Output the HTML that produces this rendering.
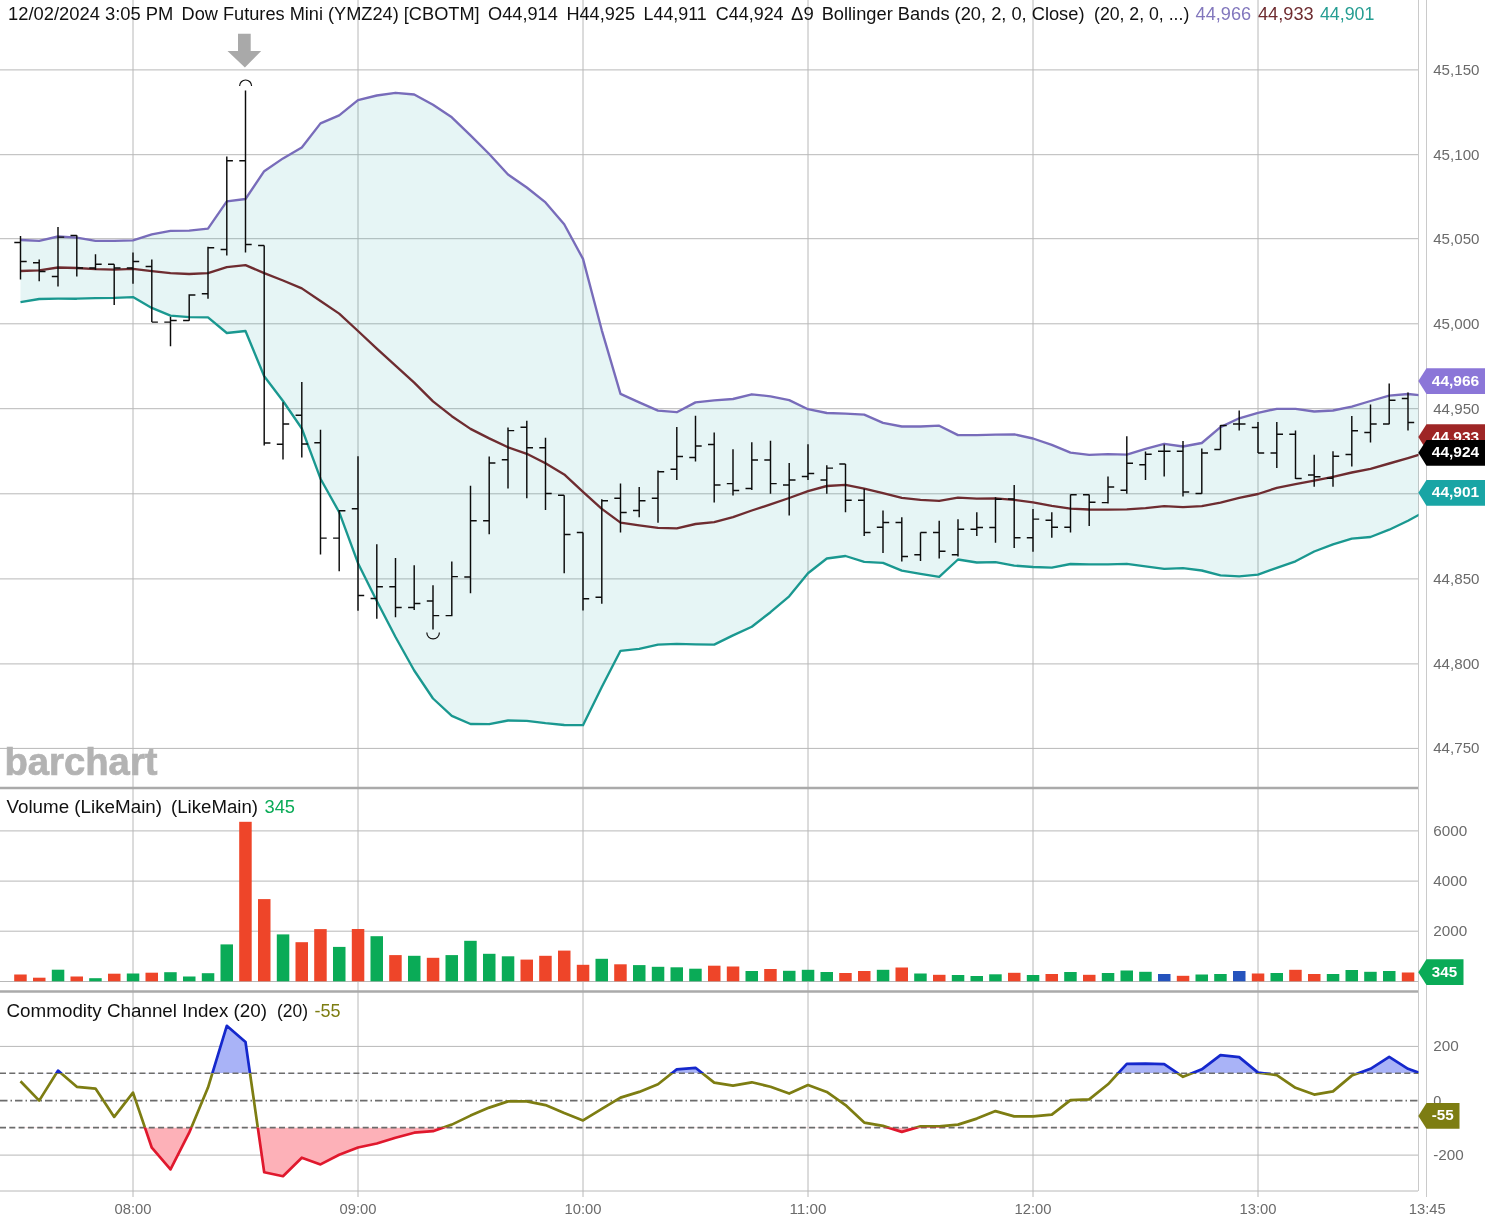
<!DOCTYPE html>
<html lang="en"><head><meta charset="utf-8"><title>Dow Futures Mini (YMZ24) chart</title>
<style>html,body{margin:0;padding:0;background:#fff}body{width:1486px;height:1226px;overflow:hidden}svg{display:block}</style></head>
<body>
<svg width="1486" height="1226" viewBox="0 0 1486 1226" font-family='"Liberation Sans", "DejaVu Sans", sans-serif'>
<defs><clipPath id="cm"><rect x="0" y="0" width="1418.5" height="788"/></clipPath><clipPath id="cc"><rect x="0" y="992" width="1418.5" height="199"/></clipPath><clipPath id="cup"><rect x="0" y="992" width="1418.5" height="81.3"/></clipPath><clipPath id="cmid"><rect x="0" y="1073.3" width="1418.5" height="54.3"/></clipPath><clipPath id="cdn"><rect x="0" y="1127.6" width="1418.5" height="64"/></clipPath></defs>
<rect width="1486" height="1226" fill="#fff"/>
<g shape-rendering="auto">
<line x1="0" y1="69.9" x2="1418" y2="69.9" stroke="#b8b8b8" stroke-width="1" />
<line x1="0" y1="154.7" x2="1418" y2="154.7" stroke="#b8b8b8" stroke-width="1" />
<line x1="0" y1="238.7" x2="1418" y2="238.7" stroke="#b8b8b8" stroke-width="1" />
<line x1="0" y1="323.8" x2="1418" y2="323.8" stroke="#b8b8b8" stroke-width="1" />
<line x1="0" y1="408.7" x2="1418" y2="408.7" stroke="#b8b8b8" stroke-width="1" />
<line x1="0" y1="493.8" x2="1418" y2="493.8" stroke="#b8b8b8" stroke-width="1" />
<line x1="0" y1="578.9" x2="1418" y2="578.9" stroke="#b8b8b8" stroke-width="1" />
<line x1="0" y1="663.9" x2="1418" y2="663.9" stroke="#b8b8b8" stroke-width="1" />
<line x1="0" y1="748.4" x2="1418" y2="748.4" stroke="#b8b8b8" stroke-width="1" />
<line x1="0" y1="830.9" x2="1418" y2="830.9" stroke="#b8b8b8" stroke-width="1" />
<line x1="0" y1="881.1" x2="1418" y2="881.1" stroke="#b8b8b8" stroke-width="1" />
<line x1="0" y1="931.2" x2="1418" y2="931.2" stroke="#b8b8b8" stroke-width="1" />
<line x1="0" y1="981.5" x2="1418" y2="981.5" stroke="#b8b8b8" stroke-width="1" />
<line x1="0" y1="1046.4" x2="1418" y2="1046.4" stroke="#b8b8b8" stroke-width="1" />
<line x1="0" y1="1155.1" x2="1418" y2="1155.1" stroke="#b8b8b8" stroke-width="1" />
<line x1="0" y1="1191" x2="1418" y2="1191" stroke="#b8b8b8" stroke-width="1" />
<line x1="133" y1="0" x2="133" y2="1197" stroke="#b8b8b8" stroke-width="1"/>
<line x1="358" y1="0" x2="358" y2="1197" stroke="#b8b8b8" stroke-width="1"/>
<line x1="583" y1="0" x2="583" y2="1197" stroke="#b8b8b8" stroke-width="1"/>
<line x1="808" y1="0" x2="808" y2="1197" stroke="#b8b8b8" stroke-width="1"/>
<line x1="1033" y1="0" x2="1033" y2="1197" stroke="#b8b8b8" stroke-width="1"/>
<line x1="1258" y1="0" x2="1258" y2="1197" stroke="#b8b8b8" stroke-width="1"/>
<line x1="1418.5" y1="0" x2="1418.5" y2="1191" stroke="#cacaca" stroke-width="1"/>
<line x1="1426.5" y1="0" x2="1426.5" y2="1197" stroke="#cacaca" stroke-width="1"/>
</g>
<g clip-path="url(#cm)">
<polygon points="20.5,240 39.2,240.8 58,236.5 76.8,237.6 95.5,240.8 114.2,240.8 133,240.4 151.8,234.4 170.5,230.8 189.2,230.7 208,228.7 226.8,201.4 245.5,199 264.2,171.2 283,158.4 301.8,147.5 320.5,123.4 339.2,115.3 358,100.2 376.8,95.5 395.5,92.8 414.2,94.5 433,104.7 451.8,117.3 470.5,135.3 489.2,154 508,174.5 526.8,187.5 545.5,202.4 564.2,224.2 583,258.9 601.8,330.3 620.5,393.9 639.2,402.4 658,410.6 676.8,412.2 695.5,402.4 714.2,400.4 733,399 751.8,394.3 770.5,396.3 789.2,400.1 808,409.2 826.8,413 845.5,413.7 864.2,414.7 883,422.8 901.8,426.5 920.5,426.5 939.2,425.7 958,435.1 976.8,435.1 995.5,434.7 1014.2,434.3 1033,438.5 1051.8,444.9 1070.5,452.7 1089.2,454.8 1108,454.2 1126.8,454.6 1145.5,448.9 1164.2,443.8 1183,446.5 1201.8,443 1220.5,427.1 1239.2,418.3 1258,412.8 1276.8,408.8 1295.5,408.8 1314.2,411.5 1333,410.5 1351.8,406.7 1370.5,401 1389.2,395.6 1408,394 1426.8,396 1426.8,510.5 1408,520.7 1389.2,529.7 1370.5,537 1351.8,538.6 1333,544.4 1314.2,551.5 1295.5,561.3 1276.8,567.8 1258,574.6 1239.2,576.4 1220.5,575.4 1201.8,570.5 1183,568.2 1164.2,568.9 1145.5,566.4 1126.8,563.8 1108,564.4 1089.2,564.3 1070.5,564 1051.8,567.6 1033,567 1014.2,565.6 995.5,562.1 976.8,562.5 958,559.5 939.2,576.8 920.5,573.8 901.8,570.7 883,562.9 864.2,561.8 845.5,556 826.8,558.5 808,573.2 789.2,596.3 770.5,612.2 751.8,626.8 733,635.4 714.2,644.6 695.5,644.4 676.8,643.8 658,644.7 639.2,648.8 620.5,650.8 601.8,687 583,725.2 564.2,725 545.5,723.2 526.8,720.9 508,720.5 489.2,724.2 470.5,724 451.8,715.8 433,698.5 414.2,670.5 395.5,637 376.8,601 358,563.2 339.2,512.2 320.5,478.7 301.8,428.5 283,401 264.2,376.3 245.5,331 226.8,333 208,317.4 189.2,317.1 170.5,315.6 151.8,307.9 133,297.1 114.2,297.9 95.5,298.2 76.8,298.7 58,298.7 39.2,299 20.5,302.2" fill="#1aa3a3" fill-opacity="0.11"/>
<polyline points="20.5,240 39.2,240.8 58,236.5 76.8,237.6 95.5,240.8 114.2,240.8 133,240.4 151.8,234.4 170.5,230.8 189.2,230.7 208,228.7 226.8,201.4 245.5,199 264.2,171.2 283,158.4 301.8,147.5 320.5,123.4 339.2,115.3 358,100.2 376.8,95.5 395.5,92.8 414.2,94.5 433,104.7 451.8,117.3 470.5,135.3 489.2,154 508,174.5 526.8,187.5 545.5,202.4 564.2,224.2 583,258.9 601.8,330.3 620.5,393.9 639.2,402.4 658,410.6 676.8,412.2 695.5,402.4 714.2,400.4 733,399 751.8,394.3 770.5,396.3 789.2,400.1 808,409.2 826.8,413 845.5,413.7 864.2,414.7 883,422.8 901.8,426.5 920.5,426.5 939.2,425.7 958,435.1 976.8,435.1 995.5,434.7 1014.2,434.3 1033,438.5 1051.8,444.9 1070.5,452.7 1089.2,454.8 1108,454.2 1126.8,454.6 1145.5,448.9 1164.2,443.8 1183,446.5 1201.8,443 1220.5,427.1 1239.2,418.3 1258,412.8 1276.8,408.8 1295.5,408.8 1314.2,411.5 1333,410.5 1351.8,406.7 1370.5,401 1389.2,395.6 1408,394 1426.8,396" fill="none" stroke="#786cba" stroke-width="2.35" stroke-linejoin="round"/>
<polyline points="20.5,302.2 39.2,299 58,298.7 76.8,298.7 95.5,298.2 114.2,297.9 133,297.1 151.8,307.9 170.5,315.6 189.2,317.1 208,317.4 226.8,333 245.5,331 264.2,376.3 283,401 301.8,428.5 320.5,478.7 339.2,512.2 358,563.2 376.8,601 395.5,637 414.2,670.5 433,698.5 451.8,715.8 470.5,724 489.2,724.2 508,720.5 526.8,720.9 545.5,723.2 564.2,725 583,725.2 601.8,687 620.5,650.8 639.2,648.8 658,644.7 676.8,643.8 695.5,644.4 714.2,644.6 733,635.4 751.8,626.8 770.5,612.2 789.2,596.3 808,573.2 826.8,558.5 845.5,556 864.2,561.8 883,562.9 901.8,570.7 920.5,573.8 939.2,576.8 958,559.5 976.8,562.5 995.5,562.1 1014.2,565.6 1033,567 1051.8,567.6 1070.5,564 1089.2,564.3 1108,564.4 1126.8,563.8 1145.5,566.4 1164.2,568.9 1183,568.2 1201.8,570.5 1220.5,575.4 1239.2,576.4 1258,574.6 1276.8,567.8 1295.5,561.3 1314.2,551.5 1333,544.4 1351.8,538.6 1370.5,537 1389.2,529.7 1408,520.7 1426.8,510.5" fill="none" stroke="#1a9890" stroke-width="2.35" stroke-linejoin="round"/>
<polyline points="20.5,271 39.2,270.4 58,267.5 76.8,268 95.5,269.1 114.2,269.6 133,268.8 151.8,271.2 170.5,273.2 189.2,274 208,273.2 226.8,267.2 245.5,265.2 264.2,273.1 283,280.5 301.8,288.4 320.5,301 339.2,313.6 358,331 376.8,348.7 395.5,365.6 414.2,382.6 433,401.3 451.8,416.2 470.5,428.9 489.2,438.4 508,447.3 526.8,453.8 545.5,463.2 564.2,474.4 583,491.8 601.8,508.9 620.5,522.6 639.2,525.4 658,527.9 676.8,528.3 695.5,524 714.2,522.2 733,517.2 751.8,510.5 770.5,504.4 789.2,498 808,491.2 826.8,486 845.5,484.8 864.2,488.6 883,493.2 901.8,497.9 920.5,499.9 939.2,500.9 958,497.7 976.8,498.7 995.5,498.3 1014.2,499.9 1033,502.4 1051.8,505.8 1070.5,508.6 1089.2,509.5 1108,509.7 1126.8,509.3 1145.5,508.1 1164.2,506.2 1183,507.1 1201.8,506.2 1220.5,502.6 1239.2,497.9 1258,494 1276.8,487.9 1295.5,484.2 1314.2,480.7 1333,476.8 1351.8,472.5 1370.5,468.8 1389.2,463.5 1408,458.1 1426.8,452.5" fill="none" stroke="#6e2c30" stroke-width="2.35" stroke-linejoin="round"/>
<path d="M20.5 236V279.6M14.3 242.5H20.5M20.5 261.5H26.7M39.2 259.4V281.2M33 262.8H39.2M39.2 271.4H45.5M58 227.1V286.6M51.8 276.4H58M58 237.1H64.2M76.8 235.2V276.4M70.5 235.5H76.8M76.8 268H83M95.5 254.3V269.9M89.3 268H95.5M95.5 264.3H101.7M114.2 264.3V305.1M108 264.3H114.2M114.2 268H120.5M133 252.6V283.7M126.8 268H133M133 261.5H139.2M151.8 259.4V322.1M145.6 266.4H151.8M151.8 322.1H157.9M170.5 316.8V346.2M164.3 322.1H170.5M170.5 320.5H176.7M189.2 294.2V320.8M183.1 320.5H189.2M189.2 295H195.4M208 246.8V298.7M201.8 293.7H208M208 247.8H214.2M226.8 156.5V255.6M220.6 249.5H226.8M226.8 160.8H232.9M245.5 90.4V252.5M239.3 160.8H245.5M245.5 244.4H251.7M264.2 245.5V445.5M258.1 245.5H264.2M264.2 443H270.4M283 402.3V459.5M276.8 444.3H283M283 424H289.2M301.8 381.9V457.5M295.6 415.2H301.8M301.8 444H307.9M320.5 429.7V554.4M314.3 442.8H320.5M320.5 538.1H326.7M339.2 510.1V571.3M333.1 538.1H339.2M339.2 510.7H345.4M358 456.2V610.7M351.8 508.7H358M358 595.4H364.2M376.8 544.2V618.8M370.6 598.4H376.8M376.8 586.8H382.9M395.5 558.1V617.2M389.3 586.8H395.5M395.5 607.4H401.7M414.2 565.2V610.1M408.1 607.4H414.2M414.2 603.5H420.4M433 585.2V629.4M426.8 600.9H433M433 615.6H439.2M451.8 561.5V616.2M445.6 615.6H451.8M451.8 576.6H457.9M470.5 485.7V593.3M464.3 577H470.5M470.5 520.7H476.7M489.2 456.6V534.2M483.1 520.7H489.2M489.2 463H495.4M508 427.4V488.5M501.8 459.8H508M508 430.6H514.2M526.8 420.8V498.3M520.5 427.3H526.8M526.8 447.7H533M545.5 437.7V510.1M539.3 447.7H545.5M545.5 493.4H551.7M564.2 495.2V573.2M558 495.2H564.2M564.2 534.4H570.5M583 532.4V610.5M576.8 532.4H583M583 598.8H589.2M601.8 499.3V603.7M595.5 597.2H601.8M601.8 500.7H608M620.5 483.6V532.4M614.3 498.3H620.5M620.5 512.6H626.7M639.2 487.1V517.3M633 510.5H639.2M639.2 500.7H645.5M658 470.4V522.8M651.8 498.3H658M658 471.8H664.2M676.8 426.9V479.9M670.5 469.3H676.8M676.8 456.5H683M695.5 415.7V461.6M689.3 457.5H695.5M695.5 445.9H701.7M714.2 432.6V502.4M708 444.5H714.2M714.2 485H720.5M733 449.3V495.6M726.8 483.6H733M733 490.5H739.2M751.8 442.2V490.1M745.5 488.5H751.8M751.8 460H758M770.5 440.8V493.8M764.3 460H770.5M770.5 483.6H776.7M789.2 463V515.6M783 485H789.2M789.2 479.9H795.5M808 444.2V479.9M801.8 476.5H808M808 473.4H814.2M826.8 465.3V493.8M820.5 479.9H826.8M826.8 468.1H833M845.5 464V512.2M839.3 464H845.5M845.5 500.3H851.7M864.2 488.7V536M858 500.3H864.2M864.2 532.4H870.5M883 510.5V553M876.8 527.3H883M883 522.4H889.2M901.8 517.3V561.5M895.5 522.4H901.8M901.8 556.4H908M920.5 532.4V561.1M914.3 554.8H920.5M920.5 532.4H926.7M939.2 520.7V558.5M933 532.4H939.2M939.2 551.3H945.5M958 519.3V556.4M951.8 554.8H958M958 529.3H964.2M976.8 512.2V536M970.5 529.3H976.8M976.8 527.5H983M995.5 497.3V542.8M989.3 527.5H995.5M995.5 499.3H1001.7M1014.2 485V547.9M1008 498.9H1014.2M1014.2 537.7H1020.5M1033 508.9V551.7M1026.8 537.7H1033M1033 519.1H1039.2M1051.8 512.2V537.7M1045.5 520.3H1051.8M1051.8 527.3H1058M1070.5 494.6V532.4M1064.3 527.3H1070.5M1070.5 494.8H1076.7M1089.2 494.4V526M1083 494.8H1089.2M1089.2 502.2H1095.5M1108 476.5V503.6M1101.8 502.6H1108M1108 486.9H1114.2M1126.8 436.3V493.8M1120.5 490.3H1126.8M1126.8 463.2H1133M1145.5 451.6V480.1M1139.3 464.8H1145.5M1145.5 454.2H1151.7M1164.2 444.4V476.5M1158 451.2H1164.2M1164.2 451.2H1170.5M1183 441V496.5M1176.8 451.2H1183M1183 492H1189.2M1201.8 448.5V493.8M1195.5 493.4H1201.8M1201.8 453H1208M1220.5 425.1V449.5M1214.3 449.5H1220.5M1220.5 425.5H1226.7M1239.2 410.4V430.6M1233 424H1239.2M1239.2 424H1245.5M1258 422V453M1251.8 427.5H1258M1258 453H1264.2M1276.8 422V467.9M1270.5 453H1276.8M1276.8 434.2H1283M1295.5 430.6V479.1M1289.3 434.2H1295.5M1295.5 478.5H1301.7M1314.2 454.8V486.7M1308 475H1314.2M1314.2 476.8H1320.5M1333 451.3V486.7M1326.8 478.3H1333M1333 456.2H1339.2M1351.8 416V466.4M1345.5 454.4H1351.8M1351.8 430.7H1358M1370.5 404.4V442.6M1364.3 432.5H1370.5M1370.5 424H1376.7M1389.2 383.6V424.3M1383 424H1389.2M1389.2 400.2H1395.5M1408 392.5V430.5M1401.8 398.4H1408M1408 422.4H1414.2" stroke="#0c0c0c" stroke-width="1.45" fill="none"/>
</g>
<path d="M239.6 86A6 6 0 0 1 251.6 86" fill="none" stroke="#111" stroke-width="1.2"/>
<path d="M426.8 632.6A6.3 6.3 0 0 0 439.4 632.6" fill="none" stroke="#111" stroke-width="1.2"/>
<path d="M238 33.8H250.7V51H261.2L244.9 67.4L227.5 51H238Z" fill="#a9a9a9"/>
<line x1="0" y1="788" x2="1418" y2="788" stroke="#aaaaaa" stroke-width="2.4" />
<line x1="0" y1="991.5" x2="1418" y2="991.5" stroke="#aaaaaa" stroke-width="2.4" />
<rect x="14.2" y="974.5" width="12.5" height="6.8" fill="#ee4529"/>
<rect x="33" y="977.7" width="12.5" height="3.6" fill="#ee4529"/>
<rect x="51.8" y="969.7" width="12.5" height="11.6" fill="#0aab57"/>
<rect x="70.5" y="976.5" width="12.5" height="4.8" fill="#ee4529"/>
<rect x="89.2" y="978.2" width="12.5" height="3.1" fill="#0aab57"/>
<rect x="108" y="973.7" width="12.5" height="7.6" fill="#ee4529"/>
<rect x="126.8" y="973.5" width="12.5" height="7.8" fill="#0aab57"/>
<rect x="145.5" y="972.7" width="12.5" height="8.6" fill="#ee4529"/>
<rect x="164.2" y="972.2" width="12.5" height="9.1" fill="#0aab57"/>
<rect x="183" y="976.5" width="12.5" height="4.8" fill="#0aab57"/>
<rect x="201.8" y="973.2" width="12.5" height="8.1" fill="#0aab57"/>
<rect x="220.5" y="944.4" width="12.5" height="36.9" fill="#0aab57"/>
<rect x="239.2" y="821.8" width="12.5" height="159.5" fill="#ee4529"/>
<rect x="258" y="899.1" width="12.5" height="82.2" fill="#ee4529"/>
<rect x="276.8" y="934.4" width="12.5" height="46.9" fill="#0aab57"/>
<rect x="295.5" y="942.2" width="12.5" height="39.1" fill="#ee4529"/>
<rect x="314.2" y="929.1" width="12.5" height="52.2" fill="#ee4529"/>
<rect x="333" y="946.9" width="12.5" height="34.4" fill="#0aab57"/>
<rect x="351.8" y="929" width="12.5" height="52.3" fill="#ee4529"/>
<rect x="370.5" y="936.2" width="12.5" height="45.1" fill="#0aab57"/>
<rect x="389.2" y="955.1" width="12.5" height="26.2" fill="#ee4529"/>
<rect x="408" y="955.8" width="12.5" height="25.5" fill="#0aab57"/>
<rect x="426.8" y="957.8" width="12.5" height="23.5" fill="#ee4529"/>
<rect x="445.5" y="955.1" width="12.5" height="26.2" fill="#0aab57"/>
<rect x="464.2" y="940.8" width="12.5" height="40.5" fill="#0aab57"/>
<rect x="483" y="953.8" width="12.5" height="27.5" fill="#0aab57"/>
<rect x="501.8" y="956.3" width="12.5" height="25" fill="#0aab57"/>
<rect x="520.5" y="959.6" width="12.5" height="21.7" fill="#ee4529"/>
<rect x="539.2" y="955.8" width="12.5" height="25.5" fill="#ee4529"/>
<rect x="558" y="950.6" width="12.5" height="30.7" fill="#ee4529"/>
<rect x="576.8" y="964.8" width="12.5" height="16.5" fill="#ee4529"/>
<rect x="595.5" y="958.8" width="12.5" height="22.5" fill="#0aab57"/>
<rect x="614.2" y="964.3" width="12.5" height="17" fill="#ee4529"/>
<rect x="633" y="965.1" width="12.5" height="16.2" fill="#0aab57"/>
<rect x="651.8" y="966.8" width="12.5" height="14.5" fill="#0aab57"/>
<rect x="670.5" y="967.3" width="12.5" height="14" fill="#0aab57"/>
<rect x="689.2" y="968.7" width="12.5" height="12.6" fill="#0aab57"/>
<rect x="708" y="965.7" width="12.5" height="15.6" fill="#ee4529"/>
<rect x="726.8" y="966.5" width="12.5" height="14.8" fill="#ee4529"/>
<rect x="745.5" y="971" width="12.5" height="10.3" fill="#0aab57"/>
<rect x="764.2" y="969" width="12.5" height="12.3" fill="#ee4529"/>
<rect x="783" y="970.8" width="12.5" height="10.5" fill="#0aab57"/>
<rect x="801.8" y="969.8" width="12.5" height="11.5" fill="#0aab57"/>
<rect x="820.5" y="972" width="12.5" height="9.3" fill="#0aab57"/>
<rect x="839.2" y="973" width="12.5" height="8.3" fill="#ee4529"/>
<rect x="858" y="971" width="12.5" height="10.3" fill="#ee4529"/>
<rect x="876.8" y="969.8" width="12.5" height="11.5" fill="#0aab57"/>
<rect x="895.5" y="967.5" width="12.5" height="13.8" fill="#ee4529"/>
<rect x="914.2" y="973.5" width="12.5" height="7.8" fill="#0aab57"/>
<rect x="933" y="974.8" width="12.5" height="6.5" fill="#ee4529"/>
<rect x="951.8" y="975" width="12.5" height="6.3" fill="#0aab57"/>
<rect x="970.5" y="976" width="12.5" height="5.3" fill="#0aab57"/>
<rect x="989.2" y="974.3" width="12.5" height="7" fill="#0aab57"/>
<rect x="1008" y="972.8" width="12.5" height="8.5" fill="#ee4529"/>
<rect x="1026.8" y="975" width="12.5" height="6.3" fill="#0aab57"/>
<rect x="1045.5" y="974" width="12.5" height="7.3" fill="#ee4529"/>
<rect x="1064.2" y="972" width="12.5" height="9.3" fill="#0aab57"/>
<rect x="1083" y="974.8" width="12.5" height="6.5" fill="#ee4529"/>
<rect x="1101.8" y="973" width="12.5" height="8.3" fill="#0aab57"/>
<rect x="1120.5" y="970.5" width="12.5" height="10.8" fill="#0aab57"/>
<rect x="1139.2" y="971.8" width="12.5" height="9.5" fill="#0aab57"/>
<rect x="1158" y="974" width="12.5" height="7.3" fill="#2553bd"/>
<rect x="1176.8" y="975.8" width="12.5" height="5.5" fill="#ee4529"/>
<rect x="1195.5" y="974.5" width="12.5" height="6.8" fill="#0aab57"/>
<rect x="1214.2" y="974" width="12.5" height="7.3" fill="#0aab57"/>
<rect x="1233" y="971" width="12.5" height="10.3" fill="#2553bd"/>
<rect x="1251.8" y="973.5" width="12.5" height="7.8" fill="#ee4529"/>
<rect x="1270.5" y="973" width="12.5" height="8.3" fill="#0aab57"/>
<rect x="1289.2" y="969.8" width="12.5" height="11.5" fill="#ee4529"/>
<rect x="1308" y="974" width="12.5" height="7.3" fill="#ee4529"/>
<rect x="1326.8" y="974" width="12.5" height="7.3" fill="#0aab57"/>
<rect x="1345.5" y="970" width="12.5" height="11.3" fill="#0aab57"/>
<rect x="1364.2" y="971.8" width="12.5" height="9.5" fill="#0aab57"/>
<rect x="1383" y="971" width="12.5" height="10.3" fill="#0aab57"/>
<rect x="1401.8" y="972.5" width="12.5" height="8.8" fill="#ee4529"/>
<g clip-path="url(#cc)">
<polygon points="20.5,1073.3 20.5,1081.3 39.2,1100.6 58,1070.6 76.8,1086.8 95.5,1088.6 114.2,1116.9 133,1092.6 151.8,1147.7 170.5,1169.4 189.2,1132.7 208,1087.6 226.8,1025.8 245.5,1042 264.2,1172.2 283,1176.2 301.8,1157.7 320.5,1164.4 339.2,1154.7 358,1147.5 376.8,1143.5 395.5,1137.7 414.2,1132.7 433,1131.2 451.8,1124.6 470.5,1115.6 489.2,1107.6 508,1101.4 526.8,1101.4 545.5,1105.1 564.2,1113.1 583,1120.4 601.8,1108.9 620.5,1097.6 639.2,1091.9 658,1084.3 676.8,1069.3 695.5,1067.8 714.2,1082.6 733,1085.6 751.8,1082.3 770.5,1086.8 789.2,1093.6 808,1085.1 826.8,1091.9 845.5,1105.1 864.2,1122.6 883,1125.9 901.8,1131.9 920.5,1126.4 939.2,1126.4 958,1124.6 976.8,1118.6 995.5,1111.1 1014.2,1116.4 1033,1116.4 1051.8,1114.6 1070.5,1100.1 1089.2,1099.4 1108,1084.3 1126.8,1063.8 1145.5,1063.6 1164.2,1064.1 1183,1076.8 1201.8,1069.3 1220.5,1055.1 1239.2,1057.1 1258,1072.6 1276.8,1075.1 1295.5,1087.8 1314.2,1094.6 1333,1091.4 1351.8,1075.6 1370.5,1068.8 1389.2,1056.8 1408,1068.8 1426.8,1075.5 1426.8,1073.3" fill="#a9b3f7" clip-path="url(#cup)"/>
<polygon points="20.5,1127.6 20.5,1081.3 39.2,1100.6 58,1070.6 76.8,1086.8 95.5,1088.6 114.2,1116.9 133,1092.6 151.8,1147.7 170.5,1169.4 189.2,1132.7 208,1087.6 226.8,1025.8 245.5,1042 264.2,1172.2 283,1176.2 301.8,1157.7 320.5,1164.4 339.2,1154.7 358,1147.5 376.8,1143.5 395.5,1137.7 414.2,1132.7 433,1131.2 451.8,1124.6 470.5,1115.6 489.2,1107.6 508,1101.4 526.8,1101.4 545.5,1105.1 564.2,1113.1 583,1120.4 601.8,1108.9 620.5,1097.6 639.2,1091.9 658,1084.3 676.8,1069.3 695.5,1067.8 714.2,1082.6 733,1085.6 751.8,1082.3 770.5,1086.8 789.2,1093.6 808,1085.1 826.8,1091.9 845.5,1105.1 864.2,1122.6 883,1125.9 901.8,1131.9 920.5,1126.4 939.2,1126.4 958,1124.6 976.8,1118.6 995.5,1111.1 1014.2,1116.4 1033,1116.4 1051.8,1114.6 1070.5,1100.1 1089.2,1099.4 1108,1084.3 1126.8,1063.8 1145.5,1063.6 1164.2,1064.1 1183,1076.8 1201.8,1069.3 1220.5,1055.1 1239.2,1057.1 1258,1072.6 1276.8,1075.1 1295.5,1087.8 1314.2,1094.6 1333,1091.4 1351.8,1075.6 1370.5,1068.8 1389.2,1056.8 1408,1068.8 1426.8,1075.5 1426.8,1127.6" fill="#fdb1b8" clip-path="url(#cdn)"/>
</g>
<line x1="0" y1="1073.3" x2="1418" y2="1073.3" stroke="#6c6c6c" stroke-width="1.55" stroke-dasharray="6 3.3"/>
<line x1="0" y1="1127.6" x2="1418" y2="1127.6" stroke="#6c6c6c" stroke-width="1.55" stroke-dasharray="6 3.3"/>
<line x1="0" y1="1100.6" x2="1418" y2="1100.6" stroke="#6c6c6c" stroke-width="1.55" stroke-dasharray="7.5 3 1.5 3"/>
<polyline points="20.5,1081.3 39.2,1100.6 58,1070.6 76.8,1086.8 95.5,1088.6 114.2,1116.9 133,1092.6 151.8,1147.7 170.5,1169.4 189.2,1132.7 208,1087.6 226.8,1025.8 245.5,1042 264.2,1172.2 283,1176.2 301.8,1157.7 320.5,1164.4 339.2,1154.7 358,1147.5 376.8,1143.5 395.5,1137.7 414.2,1132.7 433,1131.2 451.8,1124.6 470.5,1115.6 489.2,1107.6 508,1101.4 526.8,1101.4 545.5,1105.1 564.2,1113.1 583,1120.4 601.8,1108.9 620.5,1097.6 639.2,1091.9 658,1084.3 676.8,1069.3 695.5,1067.8 714.2,1082.6 733,1085.6 751.8,1082.3 770.5,1086.8 789.2,1093.6 808,1085.1 826.8,1091.9 845.5,1105.1 864.2,1122.6 883,1125.9 901.8,1131.9 920.5,1126.4 939.2,1126.4 958,1124.6 976.8,1118.6 995.5,1111.1 1014.2,1116.4 1033,1116.4 1051.8,1114.6 1070.5,1100.1 1089.2,1099.4 1108,1084.3 1126.8,1063.8 1145.5,1063.6 1164.2,1064.1 1183,1076.8 1201.8,1069.3 1220.5,1055.1 1239.2,1057.1 1258,1072.6 1276.8,1075.1 1295.5,1087.8 1314.2,1094.6 1333,1091.4 1351.8,1075.6 1370.5,1068.8 1389.2,1056.8 1408,1068.8 1426.8,1075.5" fill="none" stroke="#1528cc" stroke-width="2.7" stroke-linejoin="round" clip-path="url(#cup)"/>
<polyline points="20.5,1081.3 39.2,1100.6 58,1070.6 76.8,1086.8 95.5,1088.6 114.2,1116.9 133,1092.6 151.8,1147.7 170.5,1169.4 189.2,1132.7 208,1087.6 226.8,1025.8 245.5,1042 264.2,1172.2 283,1176.2 301.8,1157.7 320.5,1164.4 339.2,1154.7 358,1147.5 376.8,1143.5 395.5,1137.7 414.2,1132.7 433,1131.2 451.8,1124.6 470.5,1115.6 489.2,1107.6 508,1101.4 526.8,1101.4 545.5,1105.1 564.2,1113.1 583,1120.4 601.8,1108.9 620.5,1097.6 639.2,1091.9 658,1084.3 676.8,1069.3 695.5,1067.8 714.2,1082.6 733,1085.6 751.8,1082.3 770.5,1086.8 789.2,1093.6 808,1085.1 826.8,1091.9 845.5,1105.1 864.2,1122.6 883,1125.9 901.8,1131.9 920.5,1126.4 939.2,1126.4 958,1124.6 976.8,1118.6 995.5,1111.1 1014.2,1116.4 1033,1116.4 1051.8,1114.6 1070.5,1100.1 1089.2,1099.4 1108,1084.3 1126.8,1063.8 1145.5,1063.6 1164.2,1064.1 1183,1076.8 1201.8,1069.3 1220.5,1055.1 1239.2,1057.1 1258,1072.6 1276.8,1075.1 1295.5,1087.8 1314.2,1094.6 1333,1091.4 1351.8,1075.6 1370.5,1068.8 1389.2,1056.8 1408,1068.8 1426.8,1075.5" fill="none" stroke="#7d7d12" stroke-width="2.7" stroke-linejoin="round" clip-path="url(#cmid)"/>
<polyline points="20.5,1081.3 39.2,1100.6 58,1070.6 76.8,1086.8 95.5,1088.6 114.2,1116.9 133,1092.6 151.8,1147.7 170.5,1169.4 189.2,1132.7 208,1087.6 226.8,1025.8 245.5,1042 264.2,1172.2 283,1176.2 301.8,1157.7 320.5,1164.4 339.2,1154.7 358,1147.5 376.8,1143.5 395.5,1137.7 414.2,1132.7 433,1131.2 451.8,1124.6 470.5,1115.6 489.2,1107.6 508,1101.4 526.8,1101.4 545.5,1105.1 564.2,1113.1 583,1120.4 601.8,1108.9 620.5,1097.6 639.2,1091.9 658,1084.3 676.8,1069.3 695.5,1067.8 714.2,1082.6 733,1085.6 751.8,1082.3 770.5,1086.8 789.2,1093.6 808,1085.1 826.8,1091.9 845.5,1105.1 864.2,1122.6 883,1125.9 901.8,1131.9 920.5,1126.4 939.2,1126.4 958,1124.6 976.8,1118.6 995.5,1111.1 1014.2,1116.4 1033,1116.4 1051.8,1114.6 1070.5,1100.1 1089.2,1099.4 1108,1084.3 1126.8,1063.8 1145.5,1063.6 1164.2,1064.1 1183,1076.8 1201.8,1069.3 1220.5,1055.1 1239.2,1057.1 1258,1072.6 1276.8,1075.1 1295.5,1087.8 1314.2,1094.6 1333,1091.4 1351.8,1075.6 1370.5,1068.8 1389.2,1056.8 1408,1068.8 1426.8,1075.5" fill="none" stroke="#e0182d" stroke-width="2.7" stroke-linejoin="round" clip-path="url(#cdn)"/>
<text x="1433.2" y="74.8" font-size="14.5" fill="#6b6b6b" textLength="46.3" lengthAdjust="spacingAndGlyphs">45,150</text>
<text x="1433.2" y="159.6" font-size="14.5" fill="#6b6b6b" textLength="46.3" lengthAdjust="spacingAndGlyphs">45,100</text>
<text x="1433.2" y="243.6" font-size="14.5" fill="#6b6b6b" textLength="46.3" lengthAdjust="spacingAndGlyphs">45,050</text>
<text x="1433.2" y="328.7" font-size="14.5" fill="#6b6b6b" textLength="46.3" lengthAdjust="spacingAndGlyphs">45,000</text>
<text x="1433.2" y="413.6" font-size="14.5" fill="#6b6b6b" textLength="46.3" lengthAdjust="spacingAndGlyphs">44,950</text>
<text x="1433.2" y="498.7" font-size="14.5" fill="#6b6b6b" textLength="46.3" lengthAdjust="spacingAndGlyphs">44,900</text>
<text x="1433.2" y="583.8" font-size="14.5" fill="#6b6b6b" textLength="46.3" lengthAdjust="spacingAndGlyphs">44,850</text>
<text x="1433.2" y="668.8" font-size="14.5" fill="#6b6b6b" textLength="46.3" lengthAdjust="spacingAndGlyphs">44,800</text>
<text x="1433.2" y="753.3" font-size="14.5" fill="#6b6b6b" textLength="46.3" lengthAdjust="spacingAndGlyphs">44,750</text>
<text x="1433.2" y="835.8" font-size="14.5" fill="#6b6b6b" textLength="34" lengthAdjust="spacingAndGlyphs">6000</text>
<text x="1433.2" y="886" font-size="14.5" fill="#6b6b6b" textLength="34" lengthAdjust="spacingAndGlyphs">4000</text>
<text x="1433.2" y="936.1" font-size="14.5" fill="#6b6b6b" textLength="34" lengthAdjust="spacingAndGlyphs">2000</text>
<text x="1433.2" y="1051.3" font-size="14.5" fill="#6b6b6b" textLength="25.5" lengthAdjust="spacingAndGlyphs">200</text>
<text x="1433.2" y="1105.5" font-size="14.5" fill="#6b6b6b">0</text>
<text x="1433.2" y="1160" font-size="14.5" fill="#6b6b6b" textLength="30.5" lengthAdjust="spacingAndGlyphs">-200</text>
<text x="133" y="1214" font-size="14.5" fill="#6b6b6b" text-anchor="middle" textLength="37" lengthAdjust="spacingAndGlyphs">08:00</text>
<text x="358" y="1214" font-size="14.5" fill="#6b6b6b" text-anchor="middle" textLength="37" lengthAdjust="spacingAndGlyphs">09:00</text>
<text x="583" y="1214" font-size="14.5" fill="#6b6b6b" text-anchor="middle" textLength="37" lengthAdjust="spacingAndGlyphs">10:00</text>
<text x="808" y="1214" font-size="14.5" fill="#6b6b6b" text-anchor="middle" textLength="37" lengthAdjust="spacingAndGlyphs">11:00</text>
<text x="1033" y="1214" font-size="14.5" fill="#6b6b6b" text-anchor="middle" textLength="37" lengthAdjust="spacingAndGlyphs">12:00</text>
<text x="1258" y="1214" font-size="14.5" fill="#6b6b6b" text-anchor="middle" textLength="37" lengthAdjust="spacingAndGlyphs">13:00</text>
<text x="1427.3" y="1214" font-size="14.5" fill="#6b6b6b" text-anchor="middle" textLength="37" lengthAdjust="spacingAndGlyphs">13:45</text>
<path d="M1418.3 381.1L1426.5 368.2H1485V394H1426.5Z" fill="#8b76d8"/>
<text x="1431.8" y="385.6" font-size="14.6" fill="#fff" font-weight="bold" textLength="47.4" lengthAdjust="spacingAndGlyphs">44,966</text>
<path d="M1418.3 437.1L1426.5 424.2H1485V450H1426.5Z" fill="#9e2626"/>
<text x="1431.8" y="441.6" font-size="14.6" fill="#fff" font-weight="bold" textLength="47.4" lengthAdjust="spacingAndGlyphs">44,933</text>
<path d="M1418.3 452.8L1426.5 439.9H1485V465.7H1426.5Z" fill="#000"/>
<text x="1431.8" y="457.3" font-size="14.6" fill="#fff" font-weight="bold" textLength="47.4" lengthAdjust="spacingAndGlyphs">44,924</text>
<path d="M1418.3 492.8L1426.5 479.9H1485V505.7H1426.5Z" fill="#19a5a5"/>
<text x="1431.8" y="497.3" font-size="14.6" fill="#fff" font-weight="bold" textLength="47.4" lengthAdjust="spacingAndGlyphs">44,901</text>
<path d="M1418.3 972.2L1426.5 959.3H1463.5V985.1H1426.5Z" fill="#0aab57"/>
<text x="1431.8" y="976.7" font-size="14.6" fill="#fff" font-weight="bold" textLength="25.3" lengthAdjust="spacingAndGlyphs">345</text>
<path d="M1418.3 1115.9L1426.5 1103H1459.5V1128.8H1426.5Z" fill="#7d7d12"/>
<text x="1431.8" y="1120.4" font-size="14.6" fill="#fff" font-weight="bold" textLength="22" lengthAdjust="spacingAndGlyphs">-55</text>
<text x="8" y="20.2" font-size="17.5" fill="#111" textLength="165.3" lengthAdjust="spacingAndGlyphs">12/02/2024 3:05 PM</text>
<text x="181.5" y="20.2" font-size="17.5" fill="#111" textLength="298.1" lengthAdjust="spacingAndGlyphs">Dow Futures Mini (YMZ24) [CBOTM]</text>
<text x="488.1" y="20.2" font-size="17.5" fill="#111" textLength="69.7" lengthAdjust="spacingAndGlyphs">O44,914</text>
<text x="566.4" y="20.2" font-size="17.5" fill="#111" textLength="68.6" lengthAdjust="spacingAndGlyphs">H44,925</text>
<text x="643.6" y="20.2" font-size="17.5" fill="#111" textLength="63.1" lengthAdjust="spacingAndGlyphs">L44,911</text>
<text x="715.8" y="20.2" font-size="17.5" fill="#111" textLength="67.8" lengthAdjust="spacingAndGlyphs">C44,924</text>
<text x="791" y="20.2" font-size="17.5" fill="#111" textLength="22.7" lengthAdjust="spacingAndGlyphs">&#916;9</text>
<text x="821.7" y="20.2" font-size="17.5" fill="#111" textLength="262.8" lengthAdjust="spacingAndGlyphs">Bollinger Bands (20, 2, 0, Close)</text>
<text x="1094" y="20.2" font-size="17.5" fill="#111" textLength="95.3" lengthAdjust="spacingAndGlyphs">(20, 2, 0, ...)</text>
<text x="1195.6" y="20.2" font-size="17.5" fill="#8277bd" textLength="55.5" lengthAdjust="spacingAndGlyphs">44,966</text>
<text x="1258" y="20.2" font-size="17.5" fill="#6e2c30" textLength="55.6" lengthAdjust="spacingAndGlyphs">44,933</text>
<text x="1319.9" y="20.2" font-size="17.5" fill="#259d92" textLength="54.5" lengthAdjust="spacingAndGlyphs">44,901</text>
<text x="6.5" y="813.3" font-size="17.5" fill="#111" textLength="155.5" lengthAdjust="spacingAndGlyphs">Volume (LikeMain)</text>
<text x="171" y="813.3" font-size="17.5" fill="#111" textLength="87" lengthAdjust="spacingAndGlyphs">(LikeMain)</text>
<text x="264.5" y="813.3" font-size="17.5" fill="#0aab57" textLength="30.5" lengthAdjust="spacingAndGlyphs">345</text>
<text x="6.5" y="1017.3" font-size="17.5" fill="#111" textLength="260.5" lengthAdjust="spacingAndGlyphs">Commodity Channel Index (20)</text>
<text x="277" y="1017.3" font-size="17.5" fill="#111" textLength="31" lengthAdjust="spacingAndGlyphs">(20)</text>
<text x="314.5" y="1017.3" font-size="17.5" fill="#7d7d12" textLength="26" lengthAdjust="spacingAndGlyphs">-55</text>
<text x="4.5" y="775.4" font-size="38" fill="#b3b3b3" font-weight="bold" textLength="153" lengthAdjust="spacingAndGlyphs" stroke="#b3b3b3" stroke-width="0.7">barchart</text>
</svg>
</body></html>
